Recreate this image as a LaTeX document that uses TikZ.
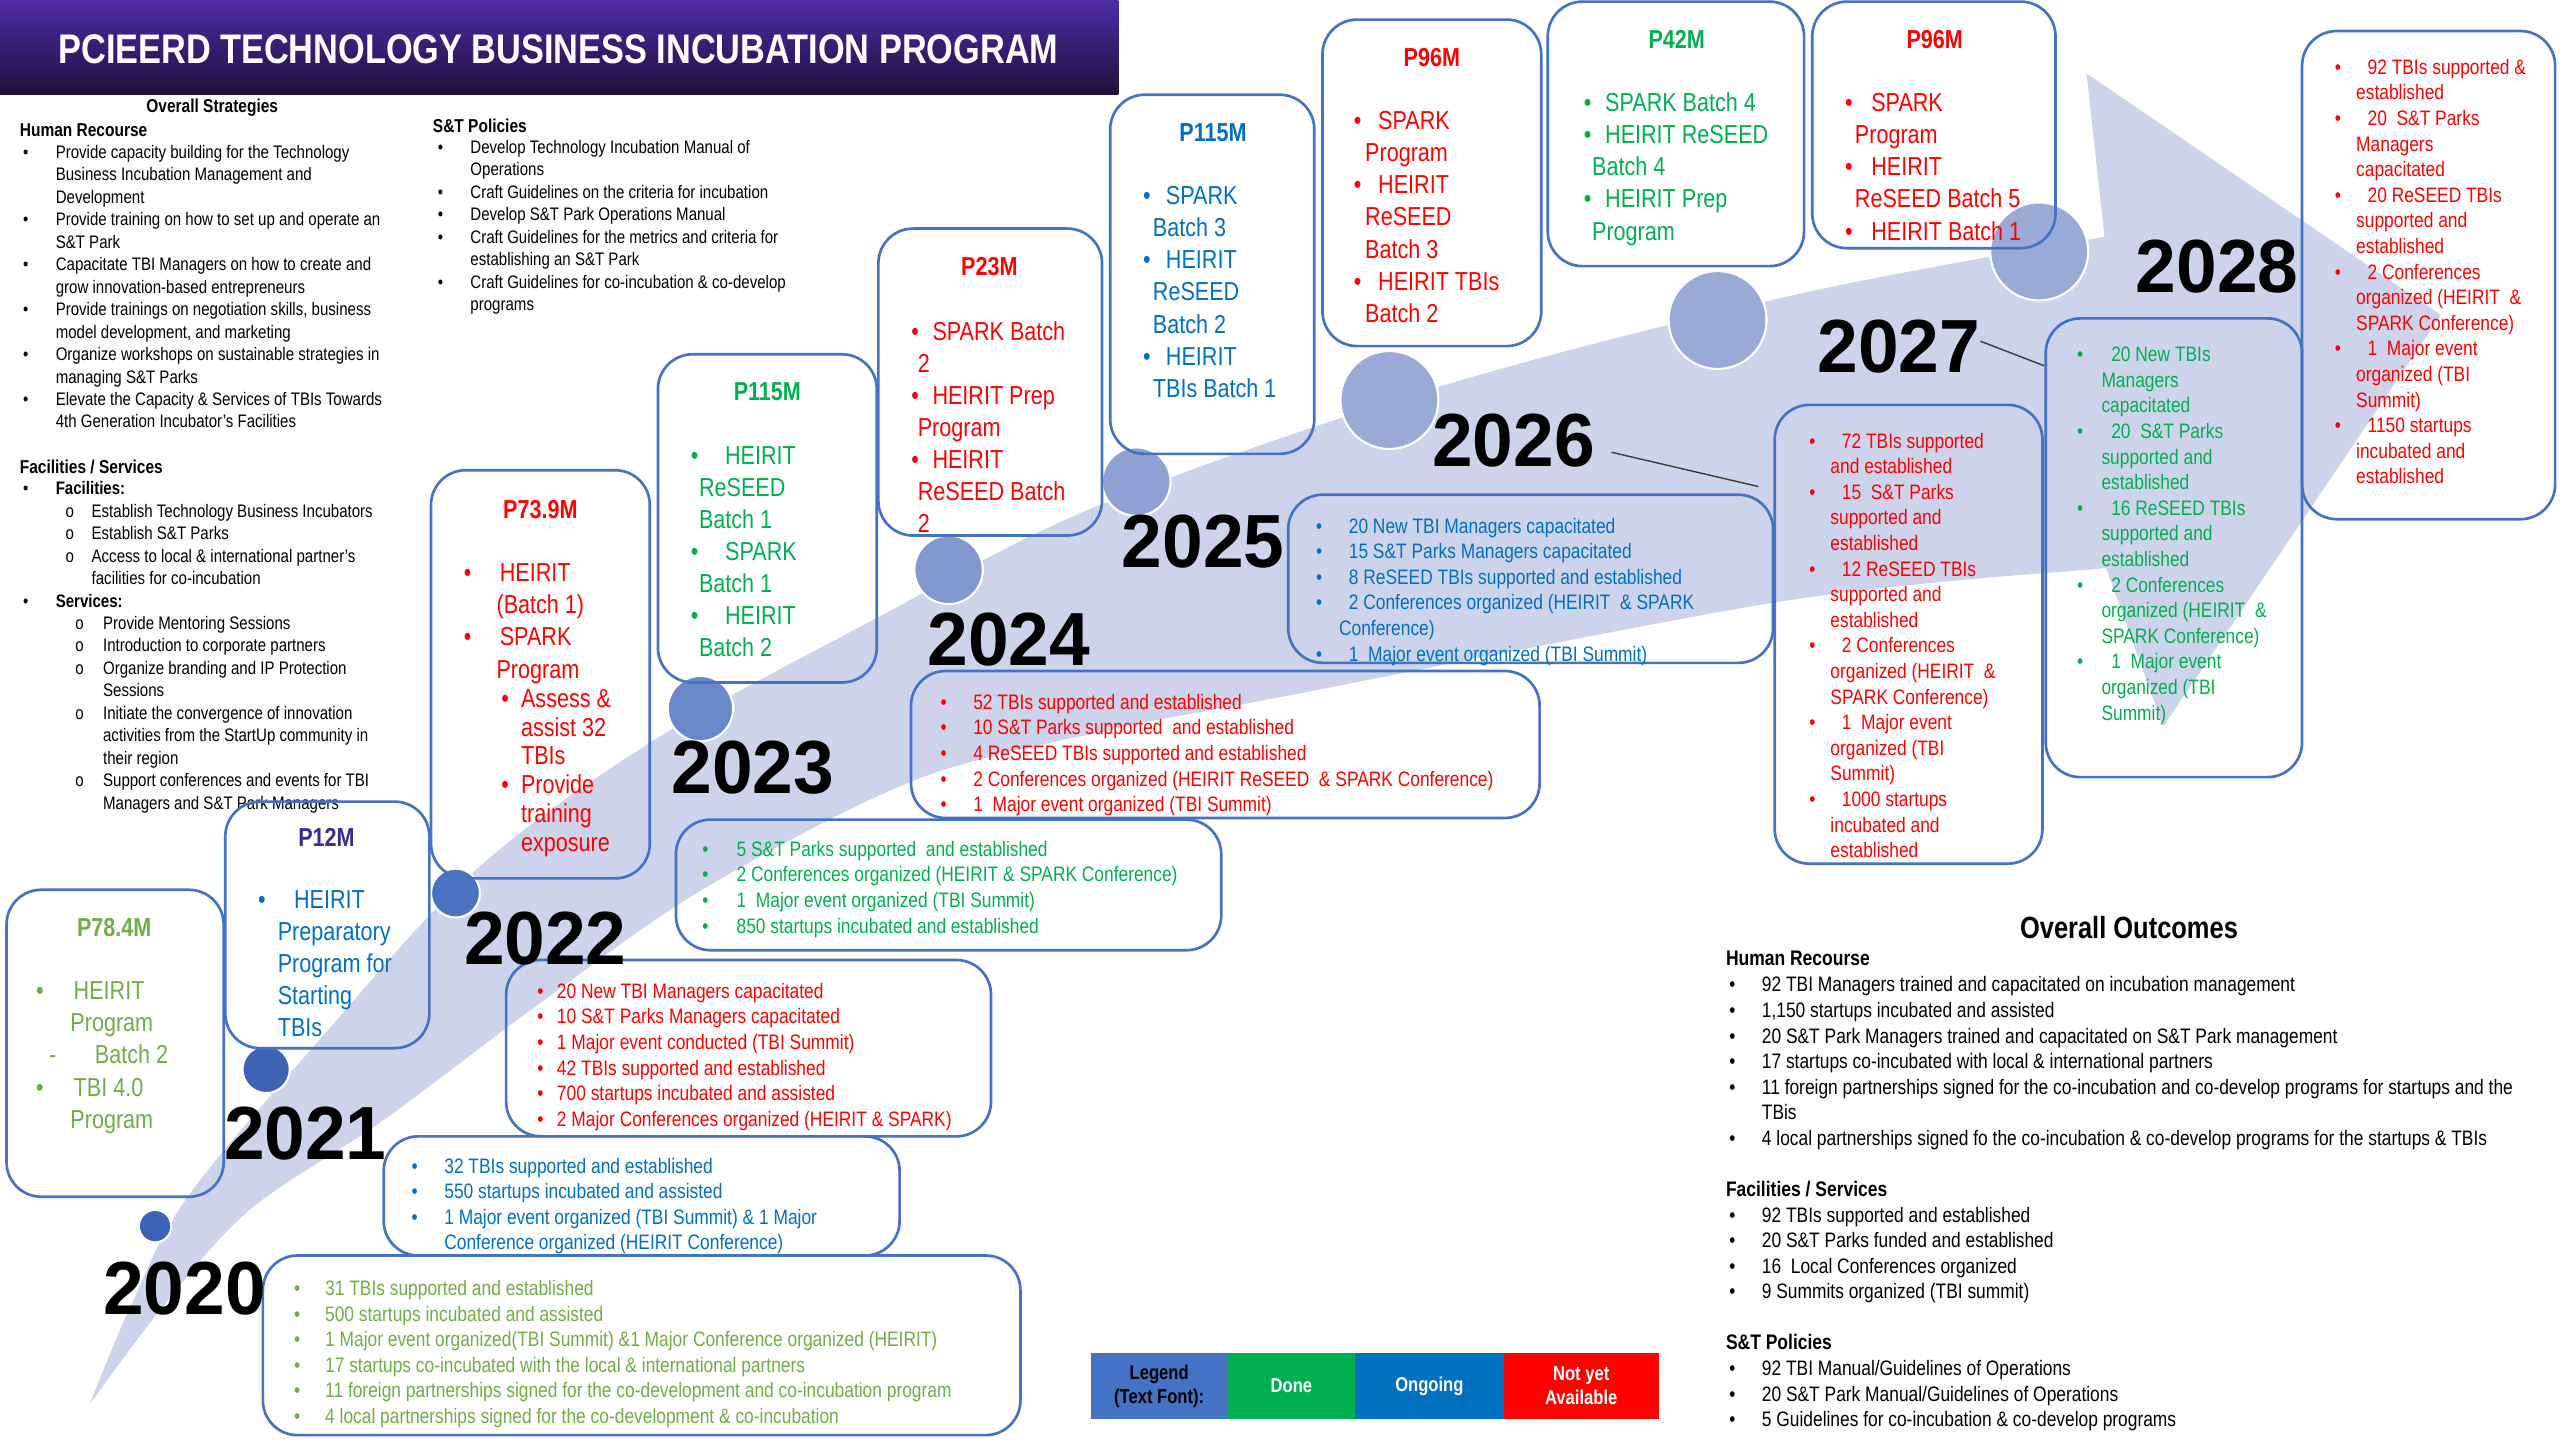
\documentclass[tikz,border=0pt]{standalone}
\usepackage{fontspec}
\setmainfont{Liberation Sans}[FakeStretch=0.83]
\newfontfamily\yearfont{Liberation Sans}[FakeStretch=0.97]
\usetikzlibrary{fit}
\definecolor{lav}{HTML}{CDD3EA}
\definecolor{boxblue}{HTML}{4472C4}
\definecolor{lgreen}{HTML}{70AD47}
\definecolor{dgreen}{HTML}{00B050}
\definecolor{oblue}{HTML}{0070C0}
\definecolor{ored}{HTML}{FF0000}
\definecolor{ppurple}{HTML}{3C2A8C}
\definecolor{bantop}{HTML}{4E2CA8}
\definecolor{banbot}{HTML}{1C1139}
\definecolor{leadgray}{HTML}{404040}
\definecolor{cA}{HTML}{3C63B4}
\definecolor{cB}{HTML}{3E64B3}
\definecolor{cC}{HTML}{4A72C0}
\definecolor{cD}{HTML}{6A88C9}
\definecolor{cE}{HTML}{8298CF}
\definecolor{cF}{HTML}{8EA1D3}
\definecolor{cG}{HTML}{99AAD6}
\newlength\uu \setlength\uu{1.2245pt}
\newcommand{\Bu}[2]{\hspace*{#1\uu}\makebox[#2\uu][l]{•}}
\newcommand{\Ci}[2]{\hspace*{#1\uu}\makebox[#2\uu][l]{o}}
\newcommand{\In}[1]{\hspace*{#1\uu}}
\newcommand{\fbud}{\fontsize{19.5}{24.1}\selectfont}
\newcommand{\fsubl}{\fontsize{19.5}{21.55}\selectfont}
\newcommand{\fout}{\fontsize{15.7}{19.2}\selectfont}
\newcommand{\fstr}{\fontsize{13.6}{16.85}\selectfont}
\newenvironment{lns}{\begin{tabular}[t]{@{}l@{}}}{\end{tabular}}
\begin{document}
\begin{tikzpicture}[x=1.2245pt, y=-1.2245pt,
  box/.style={draw=boxblue, line width=2pt, rounded corners=26pt, inner sep=0pt},
  lst/.style={anchor=base west, inner sep=0pt},
  ttl/.style={anchor=center, inner sep=0pt, font=\fbud\bfseries},
  yr/.style={anchor=center, inner sep=0pt, font=\yearfont\fontsize{56.5}{62}\selectfont\bfseries},
  dot/.style={circle, draw=white, line width=1.6pt, inner sep=0pt},
  lead/.style={draw=leadgray, line width=1.1pt},
  hdr/.style={inner sep=0pt, font=\fontsize{14}{17}\selectfont\bfseries},
  ohdr/.style={inner sep=0pt, anchor=west, font=\fontsize{15.8}{19}\selectfont\bfseries},
  legcell/.style={inner sep=0pt, align=center, font=\fontsize{15}{18}\selectfont\bfseries}
]
\useasboundingbox (0,0) rectangle (1568,882);
\fill[white] (0,0) rectangle (1568,882);

% ---------- big arrow ----------
\fill[lav] plot[smooth, tension=0.55] coordinates {(55,860) (80,800) (115,733) (200,632) (290,534) (398,455) (538,378) (672,310) (881,237) (1102,180) (1289,145)}
  -- (1278,45) -- (1495,193) -- (1325,445) -- (1290,348)
  -- plot[smooth, tension=0.55] coordinates {(1253,351) (1087,369) (784,427) (680,447) (560,478) (430,545) (330,615) (235,686) (153,741) (100,800) (55,860)} -- cycle;

% ---------- circles ----------
\node[dot, fill=cA, minimum size=24.4pt] (c20) at (95,751) {};
\node[dot, fill=cB, minimum size=35.5pt] (c21) at (163,655) {};
\node[dot, fill=cC, minimum size=36.7pt] (c22) at (279,547) {};
\node[dot, fill=cD, minimum size=49pt] (c23) at (429,434) {};
\node[dot, fill=cE, minimum size=51.4pt] (c24) at (581,349) {};
\node[dot, fill=cF, minimum size=51.4pt] (c25) at (696,295) {};
\node[dot, fill=cG, minimum size=73.5pt] (c26) at (851,245) {};
\node[dot, fill=cG, minimum size=73.5pt] (c27) at (1052,196) {};
\node[dot, fill=cG, minimum size=73.5pt] (c28) at (1249,154) {};

% ---------- banner ----------
\shade[top color=bantop, bottom color=banbot] (0,0) rectangle (685,58);
\node[inner sep=0pt, text=white, font=\fontsize{31}{36}\selectfont\bfseries] (title) at (342,30) {PCIEERD TECHNOLOGY BUSINESS INCUBATION PROGRAM};

% ---------- overall strategies ----------
\node[hdr] (os) at (130,66) {Overall Strategies};
\node[hdr, anchor=west] (hrh) at (12,80) {Human Recourse};
\node[lst, font=\fstr] (hrl) at (14,97) {\begin{lns}
\Bu{0}{20}Provide capacity building for the Technology\\
\In{20}Business Incubation Management and\\
\In{20}Development\\
\Bu{0}{20}Provide training on how to set up and operate an\\
\In{20}S\&T Park\\
\Bu{0}{20}Capacitate TBI Managers on how to create and\\
\In{20}grow innovation-based entrepreneurs\\
\Bu{0}{20}Provide trainings on negotiation skills, business\\
\In{20}model development, and marketing\\
\Bu{0}{20}Organize workshops on sustainable strategies in\\
\In{20}managing S\&T Parks\\
\Bu{0}{20}Elevate the Capacity \& Services of TBIs Towards\\
\In{20}4th Generation Incubator's Facilities
\end{lns}};
\node[hdr, anchor=west] (sth) at (265,77) {S\&T Policies};
\node[lst, font=\fstr] (stl) at (268,94) {\begin{lns}
\Bu{0}{20}Develop Technology Incubation Manual of\\
\In{20}Operations\\
\Bu{0}{20}Craft Guidelines on the criteria for incubation\\
\Bu{0}{20}Develop S\&T Park Operations Manual\\
\Bu{0}{20}Craft Guidelines for the metrics and criteria for\\
\In{20}establishing an S\&T Park\\
\Bu{0}{20}Craft Guidelines for co-incubation \& co-develop\\
\In{20}programs
\end{lns}};
\node[hdr, anchor=west] (fsh) at (12,286) {Facilities / Services};
\node[lst, font=\fstr] (fsl) at (14,303) {\begin{lns}
\Bu{0}{20}\textbf{Facilities:}\\
\Ci{26}{16}Establish Technology Business Incubators\\
\Ci{26}{16}Establish S\&T Parks\\
\Ci{26}{16}Access to local \& international partner's\\
\In{42}facilities for co-incubation\\
\Bu{0}{20}\textbf{Services:}\\
\Ci{32}{17}Provide Mentoring Sessions\\
\Ci{32}{17}Introduction to corporate partners\\
\Ci{32}{17}Organize branding and IP Protection\\
\In{49}Sessions\\
\Ci{32}{17}Initiate the convergence of innovation\\
\In{49}activities from the StartUp community in\\
\In{49}their region\\
\Ci{32}{17}Support conferences and events for TBI\\
\In{49}Managers and S\&T Park Managers
\end{lns}};

% ---------- budget boxes ----------
\node[box, fit={(4,545) (137,733)}] (bud20) {};
\node[ttl, text=lgreen] (t20) at (70,568) {P78.4M};
\node[lst, font=\fbud, text=lgreen] (l20) at (22,612.3) {\begin{lns}
\Bu{0}{23}HEIRIT\\
\In{21}Program\\
\In{8}\makebox[28\uu][l]{-}Batch 2\\
\Bu{0}{23}TBI 4.0\\
\In{21}Program
\end{lns}};

\node[box, fit={(138,491) (263,642)}] (bud21) {};
\node[ttl, text=ppurple] (t21) at (200,513) {P12M};
\node[lst, font=\fbud, text=oblue] (l21) at (158,556.3) {\begin{lns}
\Bu{0}{22}HEIRIT\\
\In{12}Preparatory\\
\In{12}Program for\\
\In{12}Starting\\
\In{12}TBIs
\end{lns}};

\node[box, fit={(264,288) (398,538)}] (bud22) {};
\node[ttl, text=ored] (t22) at (331,312) {P73.9M};
\node[lst, font=\fbud, text=ored] (l22) at (284,356.3) {\begin{lns}
\Bu{0}{22}HEIRIT\\
\In{20}(Batch 1)\\
\Bu{0}{22}SPARK\\
\In{20}Program
\end{lns}};
\node[lst, font=\fsubl, text=ored] (l22s) at (307,433.3) {\begin{lns}
\Bu{0}{12}Assess \&\\
\In{12}assist 32\\
\In{12}TBIs\\
\Bu{0}{12}Provide\\
\In{12}training\\
\In{12}exposure
\end{lns}};

\node[box, fit={(403,217) (537,418)}] (bud23) {};
\node[ttl, text=dgreen] (t23) at (470,240) {P115M};
\node[lst, font=\fbud, text=dgreen] (l23) at (423,284.3) {\begin{lns}
\Bu{0}{21}HEIRIT\\
\In{5}ReSEED\\
\In{5}Batch 1\\
\Bu{0}{21}SPARK\\
\In{5}Batch 1\\
\Bu{0}{21}HEIRIT\\
\In{5}Batch 2
\end{lns}};

\node[box, fit={(538,140) (675,328)}] (bud24) {};
\node[ttl, text=ored] (t24) at (606,163) {P23M};
\node[lst, font=\fbud, text=ored] (l24) at (558,208.3) {\begin{lns}
\Bu{0}{13}SPARK Batch\\
\In{4}2\\
\Bu{0}{13}HEIRIT Prep\\
\In{4}Program\\
\Bu{0}{13}HEIRIT\\
\In{4}ReSEED Batch\\
\In{4}2
\end{lns}};

\node[box, fit={(680,58) (805,278)}] (bud25) {};
\node[ttl, text=oblue] (t25) at (743,81) {P115M};
\node[lst, font=\fbud, text=oblue] (l25) at (700,125.3) {\begin{lns}
\Bu{0}{14}SPARK\\
\In{6}Batch 3\\
\Bu{0}{14}HEIRIT\\
\In{6}ReSEED\\
\In{6}Batch 2\\
\Bu{0}{14}HEIRIT\\
\In{6}TBIs Batch 1
\end{lns}};

\node[box, fit={(810,12) (944,212)}] (bud26) {};
\node[ttl, text=ored] (t26) at (877,35) {P96M};
\node[lst, font=\fbud, text=ored] (l26) at (829,79.3) {\begin{lns}
\Bu{0}{15}SPARK\\
\In{7}Program\\
\Bu{0}{15}HEIRIT\\
\In{7}ReSEED\\
\In{7}Batch 3\\
\Bu{0}{15}HEIRIT TBIs\\
\In{7}Batch 2
\end{lns}};

\node[box, fit={(948,1) (1105,163)}] (bud27) {};
\node[ttl, text=dgreen] (t27) at (1027,24) {P42M};
\node[lst, font=\fbud, text=dgreen] (l27) at (970,68.3) {\begin{lns}
\Bu{0}{13}SPARK Batch 4\\
\Bu{0}{13}HEIRIT ReSEED\\
\In{5}Batch 4\\
\Bu{0}{13}HEIRIT Prep\\
\In{5}Program
\end{lns}};

\node[box, fit={(1110,1) (1259,152)}] (bud28) {};
\node[ttl, text=ored] (t28) at (1185,24) {P96M};
\node[lst, font=\fbud, text=ored] (l28) at (1130,68.3) {\begin{lns}
\Bu{0}{16}SPARK\\
\In{6}Program\\
\Bu{0}{16}HEIRIT\\
\In{6}ReSEED Batch 5\\
\Bu{0}{16}HEIRIT Batch 1
\end{lns}};

% ---------- outcome boxes ----------
\node[box, fit={(161,769) (625,879)}] (o20) {};
\node[lst, font=\fout, text=lgreen] (ol20) at (180,793.5) {\begin{lns}
\Bu{0}{19}31 TBIs supported and established\\
\Bu{0}{19}500 startups incubated and assisted\\
\Bu{0}{19}1 Major event organized(TBI Summit) \&1 Major Conference organized (HEIRIT)\\
\Bu{0}{19}17 startups co-incubated with the local \& international partners\\
\Bu{0}{19}11 foreign partnerships signed for the co-development and co-incubation program\\
\Bu{0}{19}4 local partnerships signed for the co-development \& co-incubation
\end{lns}};

\node[box, fit={(235,696) (551,769)}] (o21) {};
\node[lst, font=\fout, text=oblue] (ol21) at (252,718.5) {\begin{lns}
\Bu{0}{20}32 TBIs supported and established\\
\Bu{0}{20}550 startups incubated and assisted\\
\Bu{0}{20}1 Major event organized (TBI Summit) \& 1 Major\\
\In{20}Conference organized (HEIRIT Conference)
\end{lns}};

\node[box, fit={(310,588) (607,696)}] (o22) {};
\node[lst, font=\fout, text=ored] (ol22) at (329,611.5) {\begin{lns}
\Bu{0}{12}20 New TBI Managers capacitated\\
\Bu{0}{12}10 S\&T Parks Managers capacitated\\
\Bu{0}{12}1 Major event conducted (TBI Summit)\\
\Bu{0}{12}42 TBIs supported and established\\
\Bu{0}{12}700 startups incubated and assisted\\
\Bu{0}{12}2 Major Conferences organized (HEIRIT \& SPARK)
\end{lns}};

\node[box, fit={(414,502) (748,582)}] (o23) {};
\node[lst, font=\fout, text=dgreen] (ol23) at (430,524.5) {\begin{lns}
\Bu{0}{21}5 S\&T Parks supported\ \ and established\\
\Bu{0}{21}2 Conferences organized (HEIRIT \& SPARK Conference)\\
\Bu{0}{21}1\ \ Major event organized (TBI Summit)\\
\Bu{0}{21}850 startups incubated and established
\end{lns}};

\node[box, fit={(558,411) (943,501)}] (o24) {};
\node[lst, font=\fout, text=ored] (ol24) at (576,434.5) {\begin{lns}
\Bu{0}{20}52 TBIs supported and established\\
\Bu{0}{20}10 S\&T Parks supported\ \ and established\\
\Bu{0}{20}4 ReSEED TBIs supported and established\\
\Bu{0}{20}2 Conferences organized (HEIRIT ReSEED\ \ \& SPARK Conference)\\
\Bu{0}{20}1\ \ Major event organized (TBI Summit)
\end{lns}};

\node[box, fit={(789,303) (1086,406)}] (o25) {};
\node[lst, font=\fout, text=oblue] (ol25) at (806,326.5) {\begin{lns}
\Bu{0}{20}20 New TBI Managers capacitated\\
\Bu{0}{20}15 S\&T Parks Managers capacitated\\
\Bu{0}{20}8 ReSEED TBIs supported and established\\
\Bu{0}{20}2 Conferences organized (HEIRIT\ \ \& SPARK\\
\In{14}Conference)\\
\Bu{0}{20}1\ \ Major event organized (TBI Summit)
\end{lns}};

\node[box, fit={(1087,248) (1251,529)}] (o26) {};
\node[lst, font=\fout, text=ored] (ol26) at (1108,274.5) {\begin{lns}
\Bu{0}{20}72 TBIs supported\\
\In{13}and established\\
\Bu{0}{20}15\ \ S\&T Parks\\
\In{13}supported and\\
\In{13}established\\
\Bu{0}{20}12 ReSEED TBIs\\
\In{13}supported and\\
\In{13}established\\
\Bu{0}{20}2 Conferences\\
\In{13}organized (HEIRIT\ \ \&\\
\In{13}SPARK Conference)\\
\Bu{0}{20}1\ \ Major event\\
\In{13}organized (TBI\\
\In{13}Summit)\\
\Bu{0}{20}1000 startups\\
\In{13}incubated and\\
\In{13}established
\end{lns}};

\node[box, fit={(1253,195) (1410,476)}] (o27) {};
\node[lst, font=\fout, text=dgreen] (ol27) at (1272,221.5) {\begin{lns}
\Bu{0}{21}20 New TBIs\\
\In{15}Managers\\
\In{15}capacitated\\
\Bu{0}{21}20\ \ S\&T Parks\\
\In{15}supported and\\
\In{15}established\\
\Bu{0}{21}16 ReSEED TBIs\\
\In{15}supported and\\
\In{15}established\\
\Bu{0}{21}2 Conferences\\
\In{15}organized (HEIRIT\ \ \&\\
\In{15}SPARK Conference)\\
\Bu{0}{21}1\ \ Major event\\
\In{15}organized (TBI\\
\In{15}Summit)
\end{lns}};

\node[box, fit={(1410,19) (1565,318)}] (o28) {};
\node[lst, font=\fout, text=ored] (ol28) at (1430,45.5) {\begin{lns}
\Bu{0}{20}92 TBIs supported \&\\
\In{13}established\\
\Bu{0}{20}20\ \ S\&T Parks\\
\In{13}Managers\\
\In{13}capacitated\\
\Bu{0}{20}20 ReSEED TBIs\\
\In{13}supported and\\
\In{13}established\\
\Bu{0}{20}2 Conferences\\
\In{13}organized (HEIRIT\ \ \&\\
\In{13}SPARK Conference)\\
\Bu{0}{20}1\ \ Major event\\
\In{13}organized (TBI\\
\In{13}Summit)\\
\Bu{0}{20}1150 startups\\
\In{13}incubated and\\
\In{13}established
\end{lns}};

% ---------- years ----------
\node[yr] (y20) at (113,789) {2020};
\node[yr] (y21) at (187,694) {2021};
\node[yr] (y22) at (334,575) {2022};
\node[yr] (y23) at (461,470) {2023};
\node[yr] (y24) at (618,392) {2024};
\node[yr] (y25) at (737,332) {2025};
\node[yr] (y26) at (927,270) {2026};
\node[yr] (y27) at (1163,212) {2027};
\node[yr] (y28) at (1358,163) {2028};

\coordinate (k26a) at (987,277);
\coordinate (k26b) at (1077,298);
\coordinate (k27a) at (1213,209);
\coordinate (k27b) at (1252,224);
\draw[lead] (k26a) -- (k26b);
\draw[lead] (k27a) -- (k27b);

% ---------- overall outcomes ----------
\node[inner sep=0pt, font=\fontsize{23}{27}\selectfont\bfseries] (ooh) at (1304,568) {Overall Outcomes};
\node[ohdr] (ohr) at (1057,587) {Human Recourse};
\node[lst, font=\fout] (ohrl) at (1059,607.5) {\begin{lns}
\Bu{0}{20}92 TBI Managers trained and capacitated on incubation management\\
\Bu{0}{20}1,150 startups incubated and assisted\\
\Bu{0}{20}20 S\&T Park Managers trained and capacitated on S\&T Park management\\
\Bu{0}{20}17 startups co-incubated with local \& international partners\\
\Bu{0}{20}11 foreign partnerships signed for the co-incubation and co-develop programs for startups and the\\
\In{20}TBis\\
\Bu{0}{20}4 local partnerships signed fo the co-incubation \& co-develop programs for the startups \& TBIs
\end{lns}};
\node[ohdr] (ofs) at (1057,728) {Facilities / Services};
\node[lst, font=\fout] (ofsl) at (1059,748.5) {\begin{lns}
\Bu{0}{20}92 TBIs supported and established\\
\Bu{0}{20}20 S\&T Parks funded and established\\
\Bu{0}{20}16\ \ Local Conferences organized\\
\Bu{0}{20}9 Summits organized (TBI summit)
\end{lns}};
\node[ohdr] (ost) at (1057,822) {S\&T Policies};
\node[lst, font=\fout] (ostl) at (1059,842.5) {\begin{lns}
\Bu{0}{20}92 TBI Manual/Guidelines of Operations\\
\Bu{0}{20}20 S\&T Park Manual/Guidelines of Operations\\
\Bu{0}{20}5 Guidelines for co-incubation \& co-develop programs
\end{lns}};

% ---------- legend ----------
\node[legcell, fill=boxblue, text=black, fit={(668,829) (752,869)}] (lg0) {};
\node[legcell, text=black] (lg0t) at (lg0.center) {Legend\\(Text Font):};
\node[legcell, fill=dgreen, fit={(752,829) (830,869)}] (lg1) {};
\node[legcell, text=white] (lg1t) at (lg1.center) {Done};
\node[legcell, fill=oblue, fit={(830,829) (921,869)}] (lg2) {};
\node[legcell, text=white] (lg2t) at (lg2.center) {Ongoing};
\node[legcell, fill=ored, fit={(921,829) (1016,869)}] (lg3) {};
\node[legcell, text=white] (lg3t) at (lg3.center) {Not yet\\Available};
\end{tikzpicture}
\end{document}
